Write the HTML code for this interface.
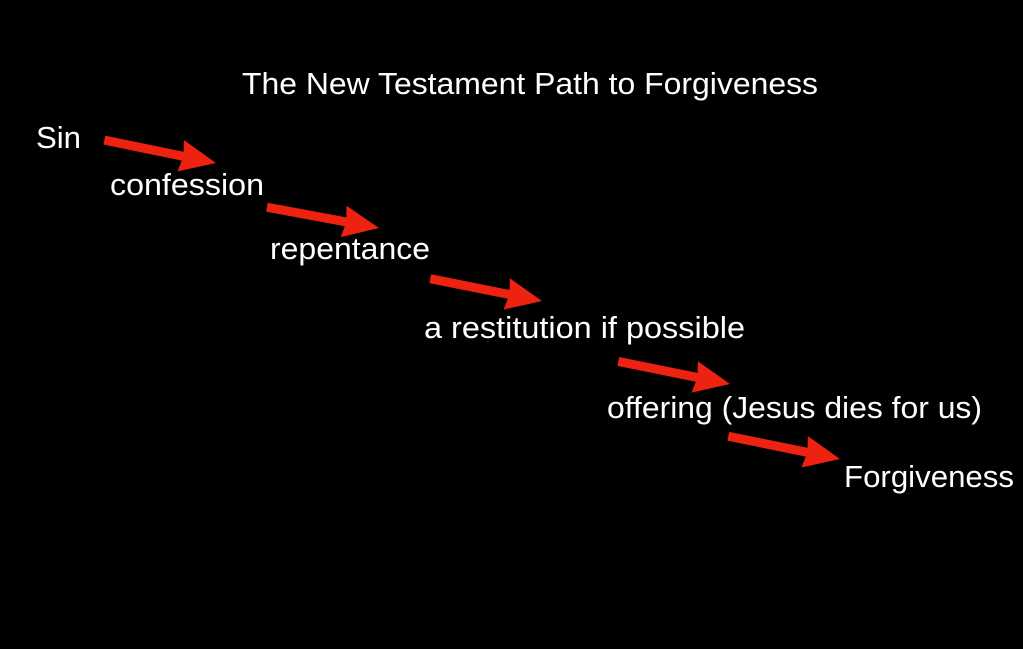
<!DOCTYPE html>
<html><head><meta charset="utf-8"><style>
html,body{margin:0;padding:0;background:#000;}
svg{display:block;}
text{font-family:"Liberation Sans",Arial,sans-serif;font-size:31px;fill:#fff;}
</style></head><body>
<svg width="1023" height="649" viewBox="0 0 1023 649" xmlns="http://www.w3.org/2000/svg">
<rect width="1023" height="649" fill="#000"/>
<defs>
<polygon id="a" points="0,0 -36,-16 -34,-4.5 -114,-4.5 -114,4.5 -34,4.5 -36,16" fill="#ee2211"/>
</defs>
<use href="#a" transform="translate(216,163) rotate(11.6)"/>
<use href="#a" transform="translate(379,228) rotate(10.5)"/>
<use href="#a" transform="translate(542,301) rotate(11.3)"/>
<use href="#a" transform="translate(730,384) rotate(11.4)"/>
<use href="#a" transform="translate(840,459) rotate(11.5)"/>
<text x="242" y="94" textLength="576" lengthAdjust="spacingAndGlyphs">The New Testament Path to Forgiveness</text>
<text x="36" y="148" textLength="45" lengthAdjust="spacingAndGlyphs">Sin</text>
<text x="110" y="195" textLength="154" lengthAdjust="spacingAndGlyphs">confession</text>
<text x="270" y="259" textLength="160" lengthAdjust="spacingAndGlyphs">repentance</text>
<text x="424" y="338" textLength="321" lengthAdjust="spacingAndGlyphs">a restitution if possible</text>
<text x="607" y="418" textLength="375" lengthAdjust="spacingAndGlyphs">offering (Jesus dies for us)</text>
<text x="844" y="487" textLength="170" lengthAdjust="spacingAndGlyphs">Forgiveness</text>
</svg>
</body></html>
